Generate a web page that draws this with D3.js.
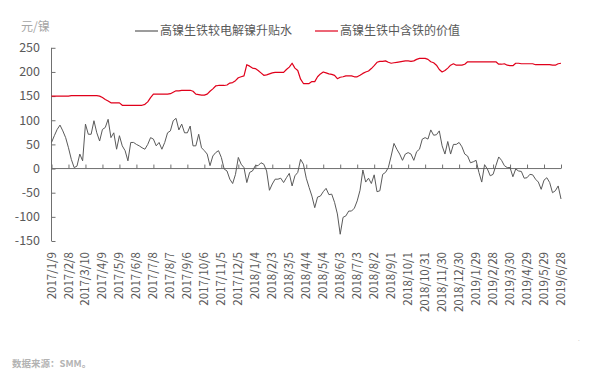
<!DOCTYPE html>
<html>
<head>
<meta charset="utf-8">
<script src="https://cdn.jsdelivr.net/npm/d3@7"></script>
<style>
  body { margin: 0; background: #fff; }
  text { font-family: "Noto Sans CJK SC", "Noto Sans", sans-serif; }
</style>
</head>
<body>
<div id="chart"></div>
<script>
// readings taken every 5 days from 2017/1/9
const startDate = "2017/1/9";
const stepDays = 5;

const tickLabels = ["2017/1/9", "2017/2/8", "2017/3/10", "2017/4/9", "2017/5/9", "2017/6/8", "2017/7/8", "2017/8/7",
  "2017/9/6", "2017/10/6", "2017/11/5", "2017/12/5", "2018/1/4", "2018/2/3", "2018/3/5", "2018/4/4", "2018/5/4",
  "2018/6/3", "2018/7/3", "2018/8/2", "2018/9/1", "2018/10/1", "2018/10/31", "2018/11/30", "2018/12/30",
  "2019/1/29", "2019/2/28", "2019/3/30", "2019/4/29", "2019/5/29", "2019/6/28"];

const yTicks = [-150, -100, -50, 0, 50, 100, 150, 200, 250];

const seriesNames = ["高镍生铁较电解镍升贴水", "高镍生铁中含铁的价值"];

// 高镍生铁较电解镍升贴水
const premium = [54, 68, 81, 90, 78, 64, 43, 19, 2, 5, 30, 16, 92, 71, 71, 99, 74, 57, 81, 85,
  102, 64, 74, 40, 68, 47, 37, 16, 54, 54, 50, 47, 43, 40, 50, 64, 61, 47, 54, 40,
  54, 74, 78, 99, 104, 80, 92, 74, 74, 88, 47, 47, 71, 43, 37, 30, 6, 26, 33, 37,
  23, -1, -5, -22, -31, -12, 23, 9, 2, -29, -8, -5, 6, 6, 12, 9, -5, -45, -32, -22,
  -22, -20, -29, -19, -10, -36, -15, -8, 19, 9, -20, -39, -57, -81, -59, -57, -48, -41, -54, -53,
  -70, -94, -136, -101, -98, -88, -88, -82, -67, -45, -3, -28, -20, -31, -13, -48, -46, -12, -8, 2,
  26, 52, 40, 30, 17, 30, 33, 30, 17, 35, 40, 61, 64, 61, 80, 69, 70, 78, 47, 30,
  56, 30, 50, 50, 54, 45, 30, 26, 12, 14, 17, -8, -28, 8, -1, -15, -12, 6, 24, 17,
  6, 2, 2, -17, -1, -5, -6, -20, -19, -12, -13, -22, -28, -43, -24, -19, -29, -50, -46, -36,
  -63];

// 高镍生铁中含铁的价值
const ironValue = [150, 150, 150, 150, 150, 150, 150, 151, 151, 151, 151, 151, 151, 151, 151, 151, 151, 150, 147, 143,
  140, 136, 136, 136, 136, 131, 131, 131, 131, 131, 131, 131, 131, 133, 138, 147, 154, 154, 154, 154,
  154, 154, 155, 158, 161, 161, 162, 162, 162, 162, 160, 154, 153, 152, 152, 154, 160, 165, 171, 172,
  172, 172, 173, 177, 178, 182, 188, 190, 192, 215, 212, 208, 207, 203, 198, 193, 194, 196, 198, 199,
  199, 199, 199, 205, 210, 218, 208, 203, 185, 176, 176, 176, 180, 180, 190, 196, 200, 198, 196, 195,
  193, 186, 189, 190, 192, 192, 192, 190, 190, 193, 197, 200, 202, 207, 213, 220, 222, 222, 223, 220,
  218, 219, 220, 221, 222, 223, 223, 222, 223, 226, 228, 228, 228, 226, 221, 219, 214, 205, 200, 203,
  208, 214, 217, 214, 214, 214, 216, 221, 221, 221, 221, 221, 221, 221, 221, 221, 221, 221, 216, 216,
  217, 214, 213, 213, 218, 218, 217, 217, 217, 217, 217, 215, 215, 215, 215, 215, 215, 214, 214, 217,
  218];

const width = 599, height = 379;
const parse = d3.utcParse("%Y/%m/%d");
const start = parse(startDate);
const dates = premium.map((d, i) => d3.utcDay.offset(start, i * stepDays));

const svg = d3.select("#chart")
  .append("svg")
  .attr("width", width)
  .attr("height", height)
  .style("display", "block");

const x = d3.scaleUtc()
  .domain([start, parse(tickLabels[tickLabels.length - 1])])
  .range([51.5, 561]);

const y = d3.scaleLinear()
  .domain([-150, 250])
  .range([241, 47.8]);

const axisColour = "#707070";
const labelColour = "#595959";

// y axis, ticks pointing inward
const yAxis = svg.append("g")
  .attr("transform", `translate(${x.range()[0]},0)`)
  .call(d3.axisRight(y).tickValues(yTicks).tickSize(4).tickFormat(""));
yAxis.select(".domain").attr("stroke", axisColour).attr("d", `M0,${y(-150)}V${y(250)}`);
yAxis.selectAll(".tick line").attr("stroke", axisColour);

svg.append("g")
  .selectAll("text")
  .data(yTicks)
  .join("text")
  .attr("x", 40)
  .attr("y", d => y(d))
  .attr("dy", "0.35em")
  .attr("text-anchor", "end")
  .style("font-size", "12.5px")
  .style("fill", labelColour)
  .text(d => d);

// x axis sits on zero, ticks pointing up
const tickDates = tickLabels.map(parse);
const xAxis = svg.append("g")
  .attr("transform", `translate(0,${y(0)})`)
  .call(d3.axisTop(x).tickValues(tickDates).tickSize(4).tickFormat(""));
xAxis.select(".domain").attr("stroke", axisColour).attr("d", `M${x.range()[0]},0H${x.range()[1]}`);
xAxis.selectAll(".tick line").attr("stroke", axisColour);

svg.append("g")
  .selectAll("text")
  .data(tickLabels)
  .join("text")
  .attr("transform", d => `translate(${x(parse(d))},252) rotate(-90)`)
  .attr("dy", "0.35em")
  .attr("text-anchor", "end")
  .style("font-size", "11.5px")
  .style("fill", labelColour)
  .text(d => d);

// lines
const line = values => d3.line()
  .x((d, i) => x(dates[i]))
  .y(d => y(d))(values);

svg.append("path")
  .attr("d", line(premium))
  .attr("fill", "none")
  .attr("stroke", "#5a5a5a")
  .attr("stroke-width", 1)
  .attr("stroke-linejoin", "round");

svg.append("path")
  .attr("d", line(ironValue))
  .attr("fill", "none")
  .attr("stroke", "#e0001b")
  .attr("stroke-width", 1.2)
  .attr("stroke-linejoin", "round");

// legend
const legend = [
  { name: seriesNames[0], colour: "#5a5a5a", x: 135 },
  { name: seriesNames[1], colour: "#e0001b", x: 315 }
];
const lg = svg.append("g")
  .selectAll("g")
  .data(legend)
  .join("g")
  .attr("transform", d => `translate(${d.x},31)`);
lg.append("line")
  .attr("x1", 0).attr("x2", 23)
  .attr("stroke", d => d.colour)
  .attr("stroke-width", 1.2);
lg.append("text")
  .attr("x", 25)
  .attr("dy", "0.35em")
  .style("font-size", "12px")
  .style("fill", labelColour)
  .text(d => d.name);

// unit and source
svg.append("text")
  .attr("x", 21)
  .attr("y", 27)
  .attr("dy", "0.35em")
  .style("font-size", "12px")
  .style("fill", "#a6a6a6")
  .text("元/镍");

svg.append("text")
  .attr("x", 12)
  .attr("y", 364)
  .attr("dy", "0.35em")
  .style("font-size", "9.5px")
  .style("font-weight", "bold")
  .style("fill", "#b3b3b3")
  .text("数据来源：SMM。");

svg.append("text")
  .attr("x", 578)
  .attr("y", 341)
  .style("font-size", "6px")
  .style("fill", "#b3b3b3")
  .text(".");
</script>
</body>
</html>
